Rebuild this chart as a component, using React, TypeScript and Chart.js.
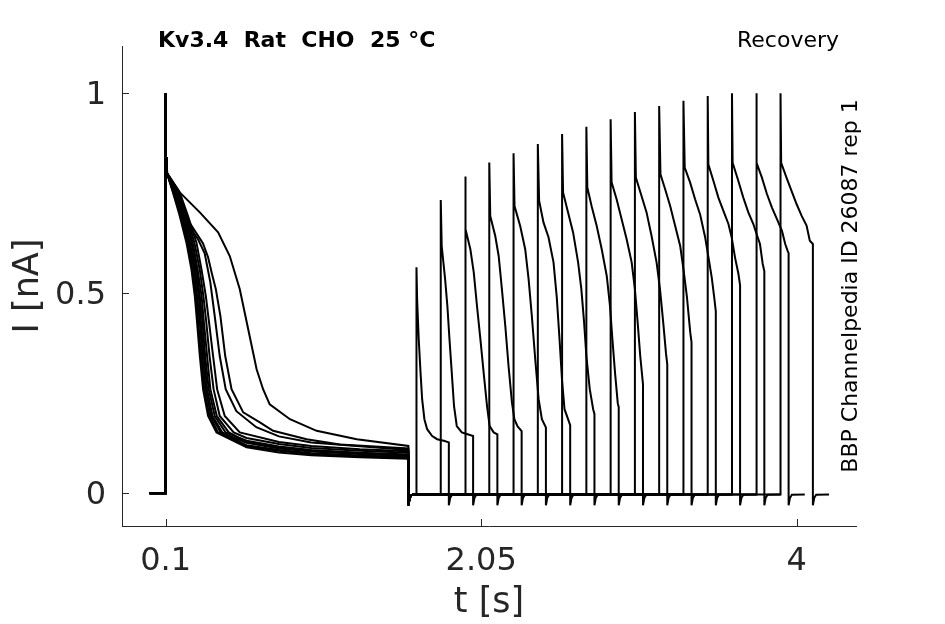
import Chart from 'chart.js/auto';
import React, { useEffect, useRef } from 'react';

type Knot = [number, number];

// axis ticks
const xTicks = [0.1, 2.05, 4];
const xTickLabels = ['0.1', '2.05', '4'];
const yTicks = [0, 0.5, 1];
const yTickLabels = ['0', '0.5', '1'];

// protocol (s)
const holdStart = 0;
const stepOn = 0.1;
const stepOff = 1.6;
const testLength = 0.2;
const sweepTail = 0.1;
const baseline = -0.003;
const firstPeak = 1.0;

// tail current after each step (time after step end, nA)
const tailRecovery: Knot[] = [
  [0, -0.03],
  [0.008, -0.012],
  [0.02, -0.004],
];

// conditioning step, one trace per sweep (t, I)
const firstTraces: Knot[][] = [
  [[0.102, 0.84], [0.108, 0.8], [0.145, 0.752], [0.187, 0.693], [0.228, 0.627], [0.259, 0.56], [0.28, 0.493], [0.294, 0.427], [0.311, 0.343], [0.331, 0.26], [0.362, 0.193], [0.414, 0.152], [0.6, 0.115], [0.8, 0.102], [1.0, 0.095], [1.3, 0.09], [1.6, 0.086]],
  [[0.102, 0.84], [0.108, 0.8], [0.151, 0.752], [0.194, 0.693], [0.236, 0.627], [0.265, 0.56], [0.288, 0.493], [0.301, 0.427], [0.319, 0.343], [0.338, 0.26], [0.371, 0.193], [0.424, 0.152], [0.6, 0.12], [0.8, 0.108], [1.0, 0.1], [1.3, 0.094], [1.6, 0.09]],
  [[0.102, 0.84], [0.108, 0.8], [0.156, 0.752], [0.199, 0.693], [0.243, 0.627], [0.274, 0.56], [0.294, 0.493], [0.311, 0.427], [0.327, 0.343], [0.347, 0.26], [0.381, 0.193], [0.44, 0.152], [0.6, 0.126], [0.8, 0.112], [1.0, 0.104], [1.3, 0.098], [1.6, 0.093]],
  [[0.102, 0.84], [0.108, 0.8], [0.161, 0.752], [0.206, 0.693], [0.249, 0.627], [0.282, 0.56], [0.304, 0.493], [0.318, 0.427], [0.336, 0.343], [0.356, 0.26], [0.389, 0.193], [0.45, 0.152], [0.6, 0.118], [0.8, 0.106], [1.0, 0.098], [1.3, 0.092], [1.6, 0.088]],
  [[0.102, 0.84], [0.108, 0.8], [0.167, 0.752], [0.214, 0.693], [0.259, 0.627], [0.29, 0.56], [0.311, 0.493], [0.328, 0.427], [0.344, 0.343], [0.366, 0.26], [0.403, 0.193], [0.47, 0.152], [0.6, 0.131], [0.8, 0.117], [1.0, 0.108], [1.3, 0.101], [1.6, 0.097]],
  [[0.102, 0.84], [0.108, 0.8], [0.174, 0.752], [0.222, 0.693], [0.267, 0.627], [0.297, 0.56], [0.322, 0.493], [0.336, 0.427], [0.356, 0.343], [0.376, 0.26], [0.416, 0.193], [0.49, 0.152], [0.6, 0.128], [0.8, 0.114], [1.0, 0.106], [1.3, 0.1], [1.6, 0.095]],
  [[0.102, 0.84], [0.108, 0.8], [0.18, 0.752], [0.231, 0.693], [0.277, 0.627], [0.31, 0.56], [0.333, 0.493], [0.351, 0.427], [0.371, 0.343], [0.396, 0.26], [0.434, 0.193], [0.52, 0.152], [0.6, 0.138], [0.8, 0.123], [1.0, 0.113], [1.3, 0.106], [1.6, 0.101]],
  [[0.102, 0.84], [0.108, 0.8], [0.187, 0.752], [0.238, 0.693], [0.29, 0.627], [0.321, 0.56], [0.348, 0.493], [0.368, 0.427], [0.393, 0.343], [0.418, 0.26], [0.465, 0.193], [0.558, 0.152], [0.8, 0.128], [1.0, 0.118], [1.3, 0.11], [1.6, 0.105]],
  [[0.102, 0.84], [0.108, 0.8], [0.16, 0.735], [0.25, 0.665], [0.3, 0.635], [0.341, 0.6], [0.376, 0.527], [0.403, 0.443], [0.434, 0.343], [0.471, 0.26], [0.537, 0.205], [0.66, 0.165], [0.8, 0.142], [1.0, 0.127], [1.6, 0.108]],
  [[0.102, 0.84], [0.108, 0.8], [0.16, 0.74], [0.25, 0.675], [0.33, 0.625], [0.362, 0.59], [0.385, 0.55], [0.41, 0.51], [0.438, 0.443], [0.468, 0.343], [0.507, 0.26], [0.579, 0.202], [0.682, 0.177], [0.764, 0.156], [0.971, 0.135], [1.177, 0.122], [1.6, 0.112]],
  [[0.102, 0.84], [0.11, 0.8], [0.187, 0.752], [0.311, 0.702], [0.424, 0.652], [0.496, 0.593], [0.558, 0.51], [0.61, 0.41], [0.662, 0.31], [0.702, 0.26], [0.743, 0.222], [0.868, 0.185], [1.033, 0.156], [1.281, 0.135], [1.6, 0.118]],
];

// test step start per sweep (s) and its peak (nA)
const testStarts = [1.65, 1.8, 1.95, 2.1, 2.25, 2.4, 2.55, 2.7, 2.85, 3.0, 3.15, 3.3, 3.45, 3.6, 3.75, 3.9];
const testPeaks = [0.565, 0.733, 0.792, 0.827, 0.85, 0.873, 0.898, 0.916, 0.935, 0.953, 0.968, 0.981, 0.993, 1.0, 1.0, 1.0];

// test step decay (time after step start, I)
const testDecays: Knot[][] = [
  [[0.004, 0.485], [0.014, 0.385], [0.025, 0.302], [0.035, 0.235], [0.049, 0.185], [0.066, 0.16], [0.097, 0.143], [0.128, 0.135], [0.169, 0.131], [0.2, 0.127]],
  [[0.006, 0.618], [0.027, 0.535], [0.041, 0.468], [0.054, 0.385], [0.068, 0.302], [0.082, 0.218], [0.099, 0.168], [0.13, 0.152], [0.161, 0.148], [0.2, 0.143]],
  [[0.006, 0.66], [0.033, 0.61], [0.054, 0.552], [0.074, 0.468], [0.095, 0.385], [0.115, 0.302], [0.136, 0.218], [0.152, 0.168], [0.177, 0.152], [0.2, 0.147]],
  [[0.006, 0.693], [0.037, 0.643], [0.058, 0.593], [0.078, 0.51], [0.099, 0.418], [0.119, 0.318], [0.14, 0.227], [0.155, 0.185], [0.175, 0.167], [0.2, 0.155]],
  [[0.006, 0.718], [0.041, 0.668], [0.072, 0.61], [0.093, 0.535], [0.113, 0.443], [0.134, 0.335], [0.155, 0.235], [0.175, 0.185], [0.2, 0.164]],
  [[0.008, 0.731], [0.035, 0.677], [0.066, 0.64], [0.097, 0.577], [0.117, 0.49], [0.135, 0.38], [0.15, 0.28], [0.165, 0.21], [0.2, 0.17]],
  [[0.006, 0.752], [0.037, 0.702], [0.068, 0.652], [0.099, 0.577], [0.119, 0.51], [0.136, 0.427], [0.15, 0.343], [0.171, 0.26], [0.192, 0.21], [0.2, 0.198]],
  [[0.006, 0.764], [0.033, 0.717], [0.064, 0.668], [0.095, 0.61], [0.126, 0.543], [0.146, 0.468], [0.161, 0.385], [0.177, 0.302], [0.194, 0.225], [0.2, 0.215]],
  [[0.006, 0.777], [0.037, 0.735], [0.068, 0.685], [0.099, 0.635], [0.13, 0.577], [0.15, 0.51], [0.167, 0.427], [0.183, 0.343], [0.2, 0.272]],
  [[0.006, 0.789], [0.041, 0.743], [0.072, 0.702], [0.103, 0.643], [0.134, 0.577], [0.155, 0.51], [0.175, 0.427], [0.192, 0.35], [0.2, 0.322]],
  [[0.008, 0.797], [0.037, 0.76], [0.068, 0.718], [0.099, 0.668], [0.13, 0.618], [0.15, 0.56], [0.171, 0.493], [0.192, 0.402], [0.2, 0.377]],
  [[0.008, 0.814], [0.041, 0.777], [0.072, 0.735], [0.103, 0.697], [0.134, 0.64], [0.155, 0.589], [0.175, 0.539], [0.19, 0.49], [0.2, 0.455]],
  [[0.004, 0.822], [0.035, 0.781], [0.066, 0.739], [0.097, 0.706], [0.128, 0.673], [0.148, 0.64], [0.169, 0.589], [0.19, 0.548], [0.2, 0.52]],
  [[0.004, 0.826], [0.039, 0.781], [0.07, 0.739], [0.101, 0.702], [0.132, 0.673], [0.152, 0.648], [0.173, 0.623], [0.19, 0.573], [0.2, 0.555]],
  [[0.004, 0.826], [0.035, 0.789], [0.066, 0.748], [0.097, 0.714], [0.128, 0.685], [0.159, 0.656], [0.179, 0.623], [0.194, 0.606], [0.2, 0.6]],
  [[0.004, 0.826], [0.037, 0.789], [0.068, 0.756], [0.099, 0.723], [0.13, 0.694], [0.161, 0.669], [0.181, 0.631], [0.2, 0.623]],
];

const axisColor = '#262626';
const fontFamily = '"DejaVu Sans", sans-serif';

const pt = (x: number, y: number) => ({ x, y });

const buildFirst = (trace: Knot[]) => [
  pt(holdStart, 0),
  pt(stepOn, 0),
  pt(stepOn, firstPeak),
  ...trace.map(([t, v]) => pt(t, v)),
  ...tailRecovery.map(([dt, v]) => pt(stepOff + dt, v)),
];

const buildTest = (start: number, peak: number, decay: Knot[]) => {
  const end = start + testLength;
  return [
    pt(stepOff + 0.025, baseline),
    pt(start, baseline),
    pt(start, peak),
    ...decay.map(([dt, v]) => pt(start + dt, v)),
    ...tailRecovery.map(([dt, v]) => pt(end + dt, v)),
    pt(end + sweepTail, baseline),
  ];
};

const decorations = {
  id: 'decorations',
  afterDraw(chart: Chart) {
    const { ctx, chartArea, scales } = chart;
    const xs = scales.x;
    const ys = scales.y;
    ctx.save();
    ctx.strokeStyle = axisColor;
    ctx.lineWidth = 1;
    ctx.beginPath();
    xTicks.forEach((v) => {
      const px = Math.round(xs.getPixelForValue(v)) + 0.5;
      ctx.moveTo(px, chartArea.bottom);
      ctx.lineTo(px, chartArea.bottom - 7);
    });
    yTicks.forEach((v) => {
      const py = Math.round(ys.getPixelForValue(v)) + 0.5;
      ctx.moveTo(chartArea.left, py);
      ctx.lineTo(chartArea.left + 7, py);
    });
    ctx.stroke();

    ctx.fillStyle = '#000';
    ctx.textBaseline = 'alphabetic';
    ctx.font = `bold 22px ${fontFamily}`;
    ctx.textAlign = 'left';
    ctx.fillText('Kv3.4  Rat  CHO  25 °C', 158, 47);
    ctx.font = `22px ${fontFamily}`;
    ctx.textAlign = 'right';
    ctx.fillText('Recovery', 839, 47);

    ctx.translate(857, 286);
    ctx.rotate(-Math.PI / 2);
    ctx.textAlign = 'center';
    ctx.font = `22px ${fontFamily}`;
    ctx.fillText('BBP Channelpedia ID 26087 rep 1', 0, 0);
    ctx.restore();
  },
};

const App: React.FC = () => {
  const canvasRef = useRef<HTMLCanvasElement>(null);

  useEffect(() => {
    if (!canvasRef.current) return;
    const datasets = [
      ...firstTraces.map((tr) => buildFirst(tr)),
      ...testStarts.map((s, i) => buildTest(s, testPeaks[i], testDecays[i])),
    ].map((data) => ({
      data,
      borderColor: '#000',
      borderWidth: 2,
      pointRadius: 0,
      fill: false,
      tension: 0,
    }));

    const chart = new Chart(canvasRef.current, {
      type: 'line',
      data: { datasets },
      options: {
        responsive: false,
        animation: false,
        layout: { padding: { top: 46, right: 89, left: 0, bottom: 0 } },
        plugins: { legend: { display: false }, tooltip: { enabled: false } },
        scales: {
          x: {
            type: 'linear',
            min: -0.17,
            max: 4.3665,
            afterBuildTicks: (s: any) => {
              s.ticks = xTicks.map((value) => ({ value }));
            },
            afterFit: (s: any) => {
              s.height = 98;
            },
            ticks: {
              padding: 16,
              color: axisColor,
              font: { family: fontFamily, size: 32 },
              maxRotation: 0,
              autoSkip: false,
              callback: (v: any) => xTickLabels[xTicks.indexOf(Number(v))] ?? '',
            },
            grid: { display: true, drawOnChartArea: false, drawTicks: false },
            border: { display: true, color: axisColor, width: 1 },
            title: {
              display: true,
              text: 't [s]',
              color: axisColor,
              font: { family: fontFamily, size: 35 },
              padding: { top: 0, bottom: 0 },
            },
          },
          y: {
            type: 'linear',
            min: -0.082,
            max: 1.118,
            afterBuildTicks: (s: any) => {
              s.ticks = yTicks.map((value) => ({ value }));
            },
            afterFit: (s: any) => {
              s.width = 122;
            },
            ticks: {
              padding: 16,
              labelOffset: 2,
              color: axisColor,
              font: { family: fontFamily, size: 32 },
              autoSkip: false,
              callback: (v: any) => yTickLabels[yTicks.indexOf(Number(v))] ?? '',
            },
            grid: { display: true, drawOnChartArea: false, drawTicks: false },
            border: { display: true, color: axisColor, width: 1 },
            title: {
              display: true,
              text: 'I [nA]',
              color: axisColor,
              font: { family: fontFamily, size: 35 },
              padding: { top: 8, bottom: 0 },
            },
          },
        },
      },
      plugins: [decorations],
    });

    return () => chart.destroy();
  }, []);

  return (
    <div style={{ position: 'absolute', left: 0, top: 0, width: 945, height: 624, background: '#fff' }}>
      <canvas ref={canvasRef} width={945} height={624} style={{ display: 'block' }} />
    </div>
  );
};

export default App;
